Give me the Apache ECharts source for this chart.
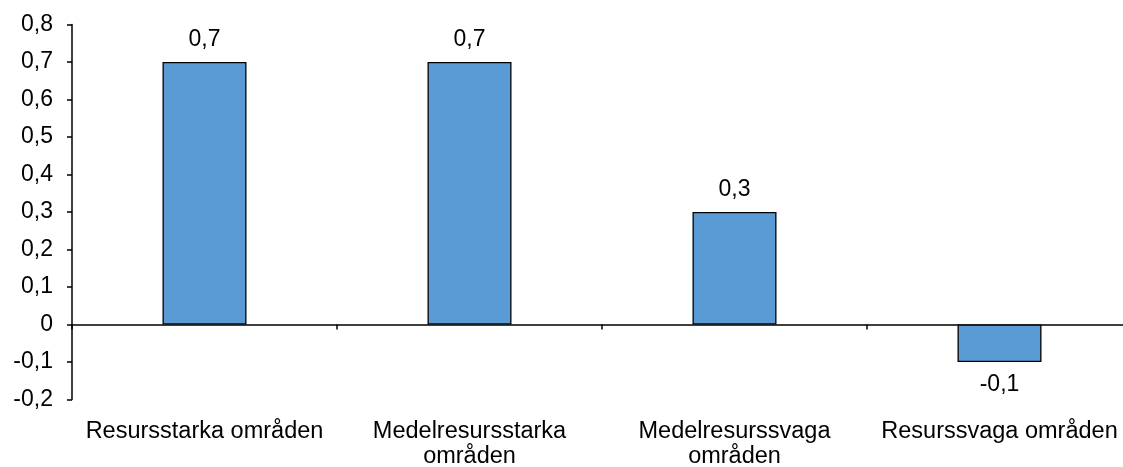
<!DOCTYPE html>
<html><head><meta charset="utf-8">
<script src="https://cdn.jsdelivr.net/npm/echarts@6/dist/echarts.min.js"></script>
<style>html,body{margin:0;padding:0;background:#fff}#c{width:1123px;height:467px}</style>
</head><body><div id="c"></div>
<script>
const categories = ['Resursstarka områden', 'Medelresursstarka\nområden', 'Medelresurssvaga\nområden', 'Resurssvaga områden'];
const values = [0.7, 0.7, 0.3, -0.1];
const yMin = -0.2, yMax = 0.8, yStep = 0.1;
const fmt = v => (Math.round(v * 10) / 10).toString().replace('.', ',');
const FONT = 'Liberation Sans, Arial, sans-serif';
const chart = echarts.init(document.getElementById('c'));
chart.setOption({
  animation: false,
  grid: { left: 72, right: -9, top: 24.5, bottom: 67.5, containLabel: false, outerBoundsMode: 'none' },
  xAxis: [{
    type: 'category', data: categories,
    axisLine: { onZero: true, lineStyle: { color: '#000', width: 1.5 } },
    axisTick: { show: true, alignWithLabel: false, length: 5, lineStyle: { color: '#000', width: 1.5 } },
    axisLabel: { show: false }
  }, {
    type: 'category', data: categories, position: 'bottom',
    axisLine: { show: false, onZero: false }, axisTick: { show: false },
    axisLabel: { color: '#000', fontFamily: FONT, fontSize: 23.5, margin: 20, lineHeight: 25, interval: 0, hideOverlap: false }
  }],
  yAxis: {
    type: 'value', min: yMin, max: yMax, interval: yStep,
    splitLine: { show: false },
    axisLine: { show: true, lineStyle: { color: '#000', width: 1.5 } },
    axisTick: { show: true, length: 5, lineStyle: { color: '#000', width: 1.5 } },
    axisLabel: { color: '#000', fontFamily: FONT, fontSize: 23, margin: 19, formatter: fmt }
  },
  series: [{
    type: 'bar', data: values, barWidth: 84, xAxisIndex: 0,
    itemStyle: { color: '#5B9BD5', borderColor: '#000', borderWidth: 1.3 },
    label: { show: true, position: 'outside', distance: 11, color: '#000', fontFamily: FONT, fontSize: 23,
      formatter: p => fmt(p.value) }
  }]
});
</script></body></html>
